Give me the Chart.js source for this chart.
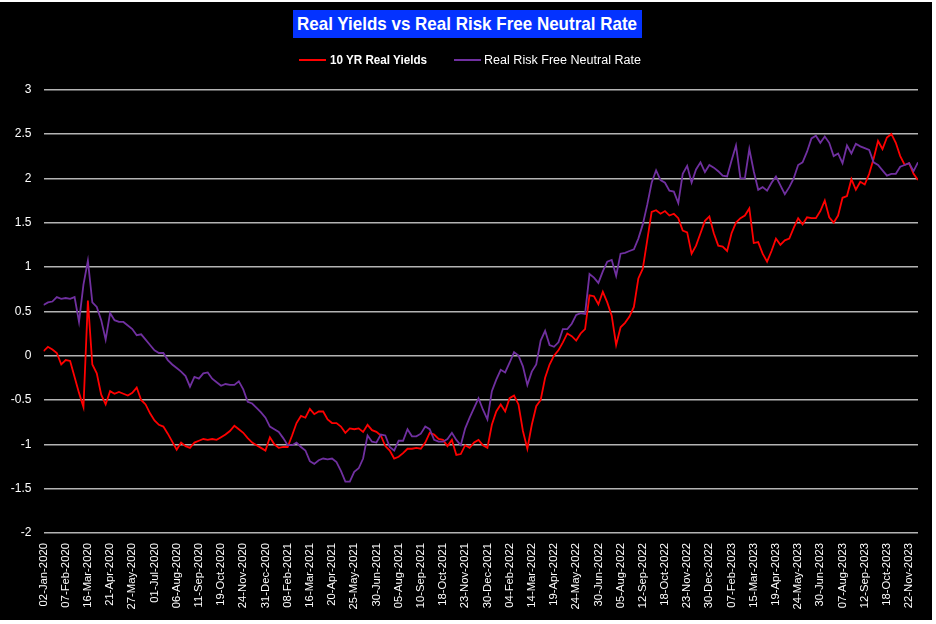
<!DOCTYPE html>
<html>
<head>
<meta charset="utf-8">
<script src="https://cdn.jsdelivr.net/npm/chart.js@4.4.1/dist/chart.umd.min.js"></script>
<style>
  html, body { margin: 0; padding: 0; background: #fff; }
  #wrap { position: relative; width: 936px; height: 624px; overflow: hidden; }
  #panel { position: absolute; left: 0; top: 2px; width: 932px; height: 618px; background: #000; }
  #chart { position: absolute; left: 0; top: 0; }
  #title {
    position: absolute; left: 293px; top: 10px; width: 349px; height: 28px;
    background: #0433ff;
  }
  .fit { position: absolute; color: #fff; white-space: nowrap; transform-origin: 0 50%;
    font-family: "Liberation Sans", Arial, sans-serif; }
  #titleText { left: 297px; top: 10px; line-height: 28px; font-size: 18.5px; font-weight: bold; }
  .leg { top: 52px; line-height: 16px; font-size: 12.5px; }
  .swatch { position: absolute; top: 59px; width: 27px; height: 2px; }
</style>
</head>
<body>
<div id="wrap">
  <div id="panel"></div>
  <canvas id="chart" width="936" height="624"></canvas>
  <div id="title"></div>
  <span id="titleText" class="fit" data-w="340">Real Yields vs Real Risk Free Neutral Rate</span>
  <div class="swatch" style="left:299px;background:#ff0000"></div>
  <span class="fit leg" data-w="97" style="left:330px;font-weight:bold">10 YR Real Yields</span>
  <div class="swatch" style="left:454px;background:#7030a0"></div>
  <span class="fit leg" data-w="157" style="left:484px">Real Risk Free Neutral Rate</span>
</div>
<script>
// weekly readings (every 5 trading days) from 02-Jan-2020
const realYields = [
  0.05, 0.10, 0.07, 0.03, -0.10, -0.05, -0.06, -0.24, -0.42, -0.58,
  0.62, -0.10, -0.20, -0.44, -0.55, -0.40, -0.43, -0.41, -0.43, -0.45,
  -0.42, -0.36, -0.50, -0.55, -0.65, -0.73, -0.78, -0.80, -0.88, -0.97,
  -1.06, -0.98, -1.02, -1.04, -0.98, -0.96, -0.94, -0.95, -0.94, -0.95,
  -0.92, -0.89, -0.85, -0.79, -0.83, -0.87, -0.93, -0.98, -1.01, -1.04,
  -1.07, -0.92, -1.00, -1.04, -1.03, -1.03, -0.90, -0.76, -0.68, -0.70,
  -0.60, -0.66, -0.63, -0.63, -0.72, -0.76, -0.76, -0.80, -0.87, -0.82,
  -0.83, -0.82, -0.86, -0.78, -0.84, -0.86, -0.90, -1.02, -1.07, -1.16,
  -1.14, -1.10, -1.05, -1.05, -1.04, -1.05, -0.98, -0.87, -0.89, -0.94,
  -0.95, -1.02, -0.95, -1.12, -1.11, -1.01, -1.04, -0.98, -0.95, -1.01,
  -1.04, -0.78, -0.63, -0.55, -0.63, -0.48, -0.45, -0.55, -0.85, -1.05,
  -0.78, -0.57, -0.50, -0.25, -0.10, 0.00, 0.06, 0.15, 0.25, 0.22,
  0.17, 0.25, 0.30, 0.68, 0.67, 0.58, 0.72, 0.60, 0.45, 0.12,
  0.32, 0.37, 0.44, 0.55, 0.87, 0.98, 1.30, 1.62, 1.64, 1.60,
  1.63, 1.58, 1.60, 1.55, 1.41, 1.39, 1.15, 1.24, 1.38, 1.52,
  1.57, 1.38, 1.24, 1.23, 1.18, 1.38, 1.50, 1.55, 1.58, 1.66,
  1.27, 1.28, 1.15, 1.06, 1.18, 1.32, 1.25, 1.30, 1.32, 1.44,
  1.55, 1.48, 1.56, 1.55, 1.55, 1.63, 1.75, 1.56, 1.50, 1.58,
  1.78, 1.80, 1.99, 1.87, 1.96, 1.93, 2.05, 2.22, 2.42, 2.33,
  2.46, 2.50, 2.40, 2.25, 2.15, 2.17, 2.05, 1.98
];
const neutralRate = [
  0.57, 0.60, 0.61, 0.66, 0.64, 0.65, 0.64, 0.66, 0.38, 0.80,
  1.07, 0.60, 0.55, 0.40, 0.18, 0.48, 0.40, 0.38, 0.38, 0.34,
  0.30, 0.23, 0.24, 0.18, 0.12, 0.06, 0.03, 0.03, -0.05, -0.10,
  -0.14, -0.18, -0.23, -0.35, -0.24, -0.26, -0.20, -0.19, -0.26, -0.30,
  -0.34, -0.32, -0.33, -0.33, -0.29, -0.38, -0.52, -0.54, -0.59, -0.64,
  -0.70, -0.80, -0.83, -0.86, -0.93, -1.01, -1.01, -0.98, -1.03, -1.07,
  -1.19, -1.22, -1.18, -1.16, -1.17, -1.16, -1.20, -1.30, -1.42, -1.42,
  -1.31, -1.27, -1.16, -0.90, -0.97, -0.98, -0.89, -0.90, -1.03, -1.07,
  -0.96, -0.96, -0.83, -0.91, -0.91, -0.88, -0.80, -0.83, -0.95, -0.97,
  -0.97, -0.94, -0.87, -0.95, -1.01, -0.82, -0.70, -0.59, -0.48, -0.61,
  -0.72, -0.40, -0.27, -0.16, -0.19, -0.08, 0.04, 0.00, -0.12, -0.33,
  -0.18, -0.10, 0.17, 0.28, 0.12, 0.10, 0.15, 0.30, 0.30, 0.36,
  0.46, 0.48, 0.47, 0.92, 0.88, 0.82, 0.95, 1.06, 1.08, 0.90,
  1.15, 1.16, 1.18, 1.20, 1.32, 1.48, 1.70, 1.95, 2.09, 1.98,
  1.95, 1.86, 1.85, 1.72, 2.05, 2.14, 1.95, 2.10, 2.18, 2.07,
  2.15, 2.12, 2.08, 2.03, 2.02, 2.20, 2.37, 2.00, 2.00, 2.33,
  2.08, 1.87, 1.90, 1.86, 1.95, 2.02, 1.92, 1.82, 1.90, 2.00,
  2.15, 2.18, 2.30, 2.45, 2.48, 2.40, 2.47, 2.40, 2.25, 2.28,
  2.17, 2.37, 2.28, 2.39, 2.36, 2.34, 2.32, 2.18, 2.15, 2.09,
  2.03, 2.05, 2.05, 2.13, 2.15, 2.17, 2.08, 2.18
];
// one date label every 5 weekly points (25 trading days)
const dateLabels = [
  '02-Jan-2020', '07-Feb-2020', '16-Mar-2020', '21-Apr-2020', '27-May-2020',
  '01-Jul-2020', '06-Aug-2020', '11-Sep-2020', '19-Oct-2020', '24-Nov-2020',
  '31-Dec-2020', '08-Feb-2021', '16-Mar-2021', '20-Apr-2021', '25-May-2021',
  '30-Jun-2021', '05-Aug-2021', '10-Sep-2021', '18-Oct-2021', '23-Nov-2021',
  '30-Dec-2021', '04-Feb-2022', '14-Mar-2022', '19-Apr-2022', '24-May-2022',
  '30-Jun-2022', '05-Aug-2022', '12-Sep-2022', '18-Oct-2022', '23-Nov-2022',
  '30-Dec-2022', '07-Feb-2023', '15-Mar-2023', '19-Apr-2023', '24-May-2023',
  '30-Jun-2023', '07-Aug-2023', '12-Sep-2023', '18-Oct-2023', '22-Nov-2023'
];
const yTicks = [3, 2.5, 2, 1.5, 1, 0.5, 0, -0.5, -1, -1.5, -2];
const pointsPerLabel = 5;

// squeeze the html texts to the widths of the narrow original font
document.querySelectorAll('.fit').forEach(el => {
  const w = el.getBoundingClientRect().width;
  el.style.transform = 'scaleX(' + (el.dataset.w / w) + ')';
});

const toXY = arr => arr.map((v, k) => ({ x: k, y: v }));
const font = '"Liberation Sans", Arial, sans-serif';

new Chart(document.getElementById('chart'), {
  type: 'line',
  data: {
    datasets: [
      {
        label: '10 YR Real Yields',
        data: toXY(realYields),
        borderColor: '#ff0000',
        borderWidth: 1.8,
        pointRadius: 0,
        order: 2
      },
      {
        label: 'Real Risk Free Neutral Rate',
        data: toXY(neutralRate),
        borderColor: '#7030a0',
        borderWidth: 1.8,
        pointRadius: 0,
        order: 1
      }
    ]
  },
  options: {
    responsive: false,
    animation: false,
    layout: { padding: { top: 89.6, right: 18, bottom: 0, left: 0 } },
    plugins: { legend: { display: false }, tooltip: { enabled: false } },
    scales: {
      x: {
        type: 'linear',
        bounds: 'data',
        min: 0,
        max: realYields.length - 1,
        grid: { display: false, drawTicks: false },
        border: { display: false },
        afterFit: s => { s.height = 91; },
        afterBuildTicks: s => {
          s.ticks = dateLabels.map((_, k) => ({ value: k * pointsPerLabel }));
        },
        ticks: {
          autoSkip: false,
          minRotation: 90,
          maxRotation: 90,
          padding: 10,
          color: '#fff',
          font: { family: font, size: 11.3 },
          callback: v => dateLabels[Math.round(v / pointsPerLabel)] || ''
        }
      },
      y: {
        min: -2,
        max: 3,
        grid: { color: '#b4b4b4', lineWidth: 1.5, drawTicks: false },
        border: { display: false },
        afterFit: s => { s.width = 43.5; },
        afterBuildTicks: s => { s.ticks = yTicks.map(v => ({ value: v })); },
        ticks: {
          padding: 12,
          color: '#fff',
          font: { family: font, size: 12 },
          callback: v => String(v)
        }
      }
    }
  }
});
</script>
</body>
</html>
